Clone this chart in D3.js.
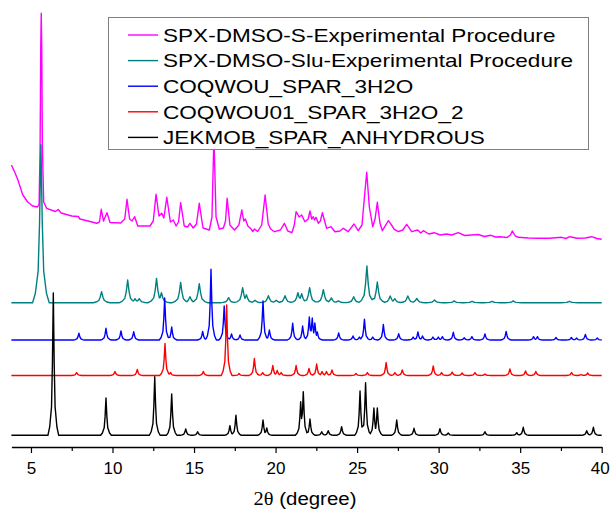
<!DOCTYPE html>
<html>
<head>
<meta charset="utf-8">
<script src="https://cdn.jsdelivr.net/npm/d3@7"></script>
<style>
  body { margin: 0; background: #fff; }
  svg { display: block; font-family: "Liberation Sans", Arial, sans-serif; }
</style>
</head>
<body>
<svg id="chart" width="610" height="512"></svg>
<script>
// Legend entries, top to bottom
const seriesNames = [
  "SPX-DMSO-S-Experimental Procedure",
  "SPX-DMSO-Slu-Experimental Procedure",
  "COQWOU_SPAR_3H2O",
  "COQWOU01_SPAR_3H2O_2",
  "JEKMOB_SPAR_ANHYDROUS"
];
const seriesColors = ["#ff00ff", "#008080", "#0000ff", "#ff0000", "#000000"];

// x axis
const xTicks = [5, 10, 15, 20, 25, 30, 35, 40];
const xMinorTicks = [7.5, 12.5, 17.5, 22.5, 27.5, 32.5, 37.5];

// vertical offsets of the stacked patterns (teal, blue, red, black)
const offsets = [144.3, 107, 71.5, 11.7];

// Experimental pattern (pink), [2θ, intensity incl. offset]
const pinkPoints = [
  [3.8, 282], [4.0, 275], [4.2, 267], [4.5, 252], [4.8, 245], [5.1, 241], [5.4, 240],
  [5.5, 243], [5.56, 300], [5.6, 400], [5.63, 433.7], [5.66, 400], [5.7, 300], [5.78, 245],
  [5.96, 238.7], [6.5, 235.5], [6.67, 237.5], [6.85, 234], [7.5, 231], [7.9, 230.5], [8.0, 228],
  [8.5, 226], [9.03, 223.7], [9.2, 225], [9.31, 237.7], [9.45, 226], [9.66, 234.3], [9.85, 224.5],
  [10.5, 224], [10.75, 228], [10.89, 247.7], [11.05, 228], [11.2, 226], [11.36, 230.3], [11.55, 221],
  [12.3, 221], [12.5, 226], [12.67, 252.7], [12.85, 231], [13.02, 233.7], [13.15, 229], [13.33, 249.7],
  [13.55, 225], [13.73, 227], [13.9, 221], [14.05, 225], [14.18, 244.3], [14.4, 221], [14.6, 220],
  [14.75, 223.7], [14.95, 219], [15.15, 223], [15.32, 243.7], [15.55, 219], [15.94, 217], [16.1, 230],
  [16.22, 310], [16.35, 230], [16.55, 218], [16.8, 219], [16.93, 226], [17.03, 248.7], [17.2, 222],
  [17.48, 217], [17.75, 222], [17.93, 237], [18.05, 226], [18.15, 228], [18.3, 221], [18.5, 218],
  [18.6, 215.5], [18.71, 218], [18.9, 215.5], [19.15, 222], [19.36, 252], [19.55, 223], [19.7, 218],
  [19.93, 215.3], [20.3, 217], [20.54, 223.7], [20.75, 216], [21.0, 214.3], [21.15, 222], [21.26, 235.3],
  [21.45, 230], [21.6, 232], [21.8, 225.3], [22.0, 228], [22.11, 236], [22.22, 228], [22.31, 230.3],
  [22.4, 227], [22.48, 229.7], [22.62, 223.7], [22.75, 226], [22.87, 234.3], [23.13, 218.7], [23.4, 220.3],
  [23.64, 215.3], [23.95, 216], [24.15, 218.7], [24.46, 215.3], [24.81, 223], [25.07, 216.3], [25.3, 222],
  [25.45, 250], [25.59, 274.7], [25.75, 240], [25.96, 220.3], [26.1, 228], [26.24, 244.7], [26.4, 224],
  [26.55, 216.3], [26.92, 226.3], [27.15, 221], [27.28, 217.7], [27.53, 215.3], [27.8, 217], [28.04, 222.7],
  [28.35, 215.3], [28.72, 217], [28.9, 214], [29.06, 216.3], [29.4, 213], [29.73, 214.3], [30.1, 212],
  [30.49, 213], [30.8, 212], [31.2, 214.3], [31.6, 211.5], [32.0, 212], [32.43, 212.5], [32.8, 210.5],
  [33.21, 211.7], [33.5, 210], [33.76, 210.3], [34.2, 209.5], [34.4, 212], [34.52, 216], [34.7, 211],
  [34.89, 209.7], [35.5, 209], [36.12, 208.7], [36.8, 208.7], [37.55, 209.7], [37.8, 208.5], [38.04, 210.3],
  [38.5, 208.7], [39.0, 209], [39.38, 210.3], [39.7, 208.5], [40, 207.7]
];

// Peak lists [2θ, height above offset]
const peaksTeal = [
  [5.61, 158], [9.33, 11], [10.93, 22.7], [11.38, 4], [11.64, 4], [12.70, 24.3], [13.00, 10],
  [14.18, 20.3], [14.75, 6], [15.32, 19], [17.12, 5], [17.98, 15], [18.21, 8], [18.74, 2.5],
  [19.56, 7], [20.04, 2.5], [20.58, 7], [21.37, 10], [21.60, 9], [22.09, 15], [22.93, 13],
  [23.42, 4.8], [23.85, 2], [24.79, 6], [25.60, 36.7], [25.98, 4], [26.24, 20.7], [27.03, 6.7],
  [27.31, 4], [28.11, 6.7], [28.66, 4.3], [29.75, 2.8], [30.95, 1.8], [32.05, 1.4], [33.28, 1.4],
  [34.57, 1.8], [38.02, 1.4]
];
const peaksBlue = [
  [7.94, 6.7], [9.60, 11.7], [10.52, 9], [11.30, 8.3], [13.20, 42], [13.63, 13], [15.53, 8.5],
  [16.04, 70.7], [16.85, 34], [17.30, 6], [17.82, 5], [19.23, 39], [19.62, 10], [21.05, 16.7],
  [21.66, 14], [22.07, 23], [22.25, 22], [22.41, 17], [22.56, 8], [23.87, 7], [24.75, 4],
  [25.14, 3], [25.45, 20.7], [25.96, 3], [26.61, 15.5], [27.55, 6.3], [28.44, 3], [28.73, 8],
  [29.01, 4], [29.65, 3], [29.98, 3], [30.23, 3.3], [30.90, 7.7], [31.57, 2.3], [32.04, 3.3],
  [32.84, 6], [34.14, 8.6], [35.82, 3.3], [36.06, 3.3], [37.20, 2.5], [38.14, 2.5], [38.46, 2],
  [39.00, 5.5], [39.73, 2]
];
const peaksRed = [
  [7.80, 3], [10.15, 4], [11.52, 6], [13.22, 32], [13.56, 3], [15.57, 4], [17.00, 70.5],
  [17.76, 2], [18.70, 17], [19.21, 3], [19.83, 10], [20.10, 5], [20.34, 3], [21.26, 10],
  [22.05, 7], [22.52, 11.5], [22.85, 4], [23.12, 4], [23.46, 5.5], [24.93, 2], [25.63, 3],
  [26.78, 13], [27.32, 3], [27.77, 5.5], [29.67, 9.5], [30.18, 3], [30.83, 3.5], [31.44, 2.5],
  [32.23, 3], [32.84, 1.5], [34.37, 6.5], [35.33, 4.5], [35.96, 4], [38.15, 3], [38.73, 1],
  [39.14, 2.5]
];
const peaksBlack = [
  [6.37, 142.3], [9.60, 37.3], [12.59, 58.6], [13.63, 41.3], [14.49, 6.3], [15.22, 3.6],
  [17.20, 9.6], [17.57, 20], [19.23, 15.3], [19.46, 7.3], [21.54, 33.6], [21.70, 43.6],
  [22.11, 16.3], [22.83, 3.6], [23.23, 4.6], [24.05, 8.6], [25.18, 44.3], [25.52, 52.6],
  [26.03, 27.3], [26.24, 27.3], [27.43, 15.3], [28.49, 7], [30.08, 6.6], [30.59, 2.3],
  [32.84, 3.6], [34.79, 2.6], [35.19, 8], [39.08, 4.6], [39.49, 8]
];

const margin = { left: 11.4, right: 8.3, top: 7, bottom: 65 };
const width = 610, height = 512;

const svg = d3.select("#chart");

const x = d3.scaleLinear().domain([3.8, 40]).range([margin.left, width - margin.right]);
const y = d3.scaleLinear().domain([0, 440]).range([height - margin.bottom, margin.top]);

// Peak glyph: offsets in half-widths and fraction of peak height
const glyphOffsets = [-6, -4, -2, -1, 0, 1, 2, 4, 6];
const glyphFractions = [0, 0.06, 0.2, 0.5, 1, 0.5, 0.2, 0.06, 0];

function glyphAt(dx, hw) {
  const u = dx / hw;
  if (u <= glyphOffsets[0] || u >= glyphOffsets[glyphOffsets.length - 1]) return 0;
  const i = d3.bisectRight(glyphOffsets, u) - 1;
  const t = (u - glyphOffsets[i]) / (glyphOffsets[i + 1] - glyphOffsets[i]);
  return glyphFractions[i] + t * (glyphFractions[i + 1] - glyphFractions[i]);
}

// Upper envelope of the peak glyphs sitting on the offset line
function peakPoints(peaks, base, hw) {
  const xs = new Set([3.8, 40]);
  peaks.forEach(([pos]) => glyphOffsets.forEach(o => {
    const v = pos + o * hw;
    if (v > 3.8 && v < 40) xs.add(+v.toFixed(4));
  }));
  return Array.from(xs).sort((a, b) => a - b).map(v => {
    const h = d3.max(peaks, ([pos, ph]) => ph * glyphAt(v - pos, hw));
    return [v, base + h];
  });
}

const line = d3.line()
  .x(d => x(d[0]))
  .y(d => y(d[1]));

const gLines = svg.append("g").attr("class", "patterns");

const patterns = [
  { pts: pinkPoints, color: seriesColors[0] },
  { pts: peakPoints(peaksTeal, offsets[0], 0.085), color: seriesColors[1] },
  { pts: peakPoints(peaksBlue, offsets[1], 0.055), color: seriesColors[2] },
  { pts: peakPoints(peaksRed, offsets[2], 0.055), color: seriesColors[3] },
  { pts: peakPoints(peaksBlack, offsets[3], 0.055), color: seriesColors[4] }
];

patterns.forEach(p => {
  gLines.append("path")
    .attr("d", line(p.pts))
    .attr("fill", "none")
    .attr("stroke", p.color)
    .attr("stroke-width", 1.4)
    .attr("stroke-linejoin", "round");
});

// Bottom axis
const axisY = y(0);
const gAxis = svg.append("g")
  .attr("transform", `translate(0,${axisY})`)
  .call(d3.axisBottom(x).tickValues(xTicks).tickSize(6).tickSizeOuter(0).tickFormat(d3.format("d")));

gAxis.select(".domain").attr("stroke", "#000").attr("stroke-width", 1.3);
gAxis.selectAll(".tick line").attr("stroke", "#000").attr("stroke-width", 1.2);
gAxis.selectAll(".tick text")
  .attr("y", 14.5)
  .attr("dy", "0.71em")
  .attr("fill", "#000")
  .style("font-family", "'Liberation Sans', Arial, sans-serif")
  .style("font-size", "17px");

// last label sits against the right edge: keep it inside the page
gAxis.selectAll(".tick text").filter(d => d === 40).attr("x", -2);

svg.append("g")
  .attr("transform", `translate(0,${axisY})`)
  .call(d3.axisBottom(x).tickValues(xMinorTicks).tickSize(4).tickSizeOuter(0).tickFormat(""))
  .call(g => g.select(".domain").remove())
  .call(g => g.selectAll(".tick line").attr("stroke", "#000").attr("stroke-width", 1.2));

// Axis title, stretched to the reference width
const title = svg.append("text")
  .attr("x", 305)
  .attr("y", 505)
  .attr("text-anchor", "middle")
  .style("font-size", "19px")
  .call(t => {
    t.append("tspan").style("font-family", "'Liberation Serif', 'Times New Roman', serif").text("2θ");
    t.append("tspan").text(" (degree)");
  });
const tw = title.node().getBBox().width;
title.attr("transform", `translate(305,0) scale(${103 / tw},1) translate(-305,0)`);

// Legend
const legend = { x: 108, y: 17, w: 480, h: 132, rowH: 25.6, firstRow: 35 };
const gLegend = svg.append("g").attr("class", "legend");

gLegend.append("rect")
  .attr("x", legend.x + 0.5)
  .attr("y", legend.y + 0.5)
  .attr("width", legend.w)
  .attr("height", legend.h)
  .attr("fill", "#fff")
  .attr("stroke", "#808080")
  .attr("stroke-width", 1);

const labels = seriesNames.map((name, i) => {
  const ly = legend.firstRow + i * legend.rowH;
  gLegend.append("line")
    .attr("x1", 128).attr("x2", 158)
    .attr("y1", ly).attr("y2", ly)
    .attr("stroke", seriesColors[i])
    .attr("stroke-width", 1.4);
  return gLegend.append("text")
    .attr("x", 163)
    .attr("y", ly)
    .attr("dy", "0.36em")
    .style("font-size", "19px")
    .attr("fill", "#000")
    .text(name);
});

// widen legend text so the longest label ends where it does in the reference
const lens = labels.map(t => t.node().getComputedTextLength());
const sx = 410 / d3.max(lens);
labels.forEach((t, i) => t.attr("textLength", lens[i] * sx).attr("lengthAdjust", "spacingAndGlyphs"));
</script>
</body>
</html>
